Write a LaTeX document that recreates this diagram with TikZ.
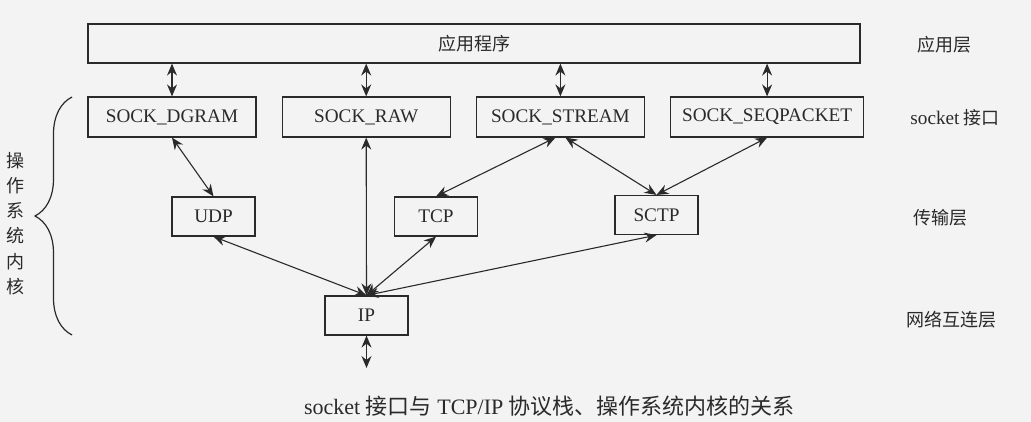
\documentclass[tikz,border=0pt]{standalone}
\usepackage{fontspec}
\setmainfont{Liberation Serif}
\newfontfamily\cjk{Noto Sans CJK SC}
\usetikzlibrary{positioning, arrows.meta, decorations.pathreplacing}
\definecolor{inkgray}{HTML}{2A2A2A}
\definecolor{papergray}{HTML}{F3F3F3}

\begin{document}
\begin{tikzpicture}[
  x=0.5pt, y=-0.5pt,
  node distance=12.5pt,
  box/.style={draw=inkgray, line width=0.6pt, minimum height=20pt,
              inner sep=0pt, text=inkgray, font=\fontsize{9.6}{11}\selectfont},
  sockbox/.style={box, minimum width=84pt},
  protobox/.style={box, minimum width=41.5pt, minimum height=19.5pt},
  layername/.style={inner sep=0pt, text=inkgray, font=\cjk\fontsize{9}{11}\selectfont},
  arrow/.style={{Stealth[length=6pt,width=5pt,inset=2pt]}-{Stealth[length=6pt,width=5pt,inset=2pt]},
                line width=0.55pt, draw=inkgray},
]
  % Page
  \path[use as bounding box, fill=papergray] (0,0) rectangle (1031,422);
  % Application
  \node[box, minimum width=386pt, minimum height=19.5pt,
        font=\cjk\fontsize{9}{11}\selectfont] (app) at (474,43.5) {应用程序};
  % Socket types
  \node[sockbox] (dgram) at (172,117) {SOCK\_DGRAM};
  \node[sockbox, right=of dgram] (raw) {SOCK\_RAW};
  \node[sockbox, right=of raw] (stream) {SOCK\_STREAM};
  \node[sockbox, minimum width=96.5pt, right=of stream] (seqpkt) {SOCK\_SEQPACKET};
  % Transport
  \node[protobox] (udp) at (213.5,216.5) {UDP};
  \node[protobox] (tcp) at (436,216.5) {TCP};
  \node[protobox] (sctp) at (656.5,215) {SCTP};
  % Network
  \node[protobox] (ip) at (366.5,315.5) {IP};
  \coordinate (netout) at (366.5,368);
  % Layer names
  \node[layername] (lapp) at (944,45) {应用层};
  \node[layername] (lsock) at (955,118) {{\rmfamily\fontsize{9.6}{11}\selectfont socket} 接口};
  \node[layername] (ltrans) at (940,218) {传输层};
  \node[layername] (lnet) at (951,320) {网络互连层};
  % Kernel brace
  \coordinate (ktop) at (72,97);
  \coordinate (kbot) at (72,335);
  \draw[inkgray, line width=0.6pt, decorate, decoration={brace, amplitude=18.5pt}]
    (kbot) -- (ktop);
  \node[layername, align=center, font=\cjk\fontsize{9}{12.6}\selectfont]
    (kernel) at (15,223.5) {操\\作\\系\\统\\内\\核};
  % Arrows
  \draw[arrow] (app.south -| dgram.north) -- (dgram.north);
  \draw[arrow] (app.south -| raw.north) -- (raw.north);
  \draw[arrow] (app.south -| stream.north) -- (stream.north);
  \draw[arrow] (app.south -| seqpkt.north) -- (seqpkt.north);
  \draw[arrow] (dgram.south) -- (udp.north);
  \draw[arrow] (raw.south) -- (ip.north);
  \draw[arrow] ([xshift=-2.5pt]stream.south) -- (tcp.north);
  \draw[arrow] ([xshift=2.5pt]stream.south) -- (sctp.north);
  \draw[arrow] (seqpkt.south) -- (sctp.north);
  \draw[arrow] (udp.south) -- (ip.north);
  \draw[arrow] (tcp.south) -- (ip.north);
  \draw[arrow] (sctp.south) -- (ip.north);
  \draw[arrow] (ip.south) -- (netout);
  % Caption
  \node[text=inkgray, font=\fontsize{11}{13}\selectfont] (caption) at (549.5,406)
    {socket {\cjk 接口与} TCP/IP {\cjk 协议栈、操作系统内核的关系}};
\end{tikzpicture}
\end{document}
